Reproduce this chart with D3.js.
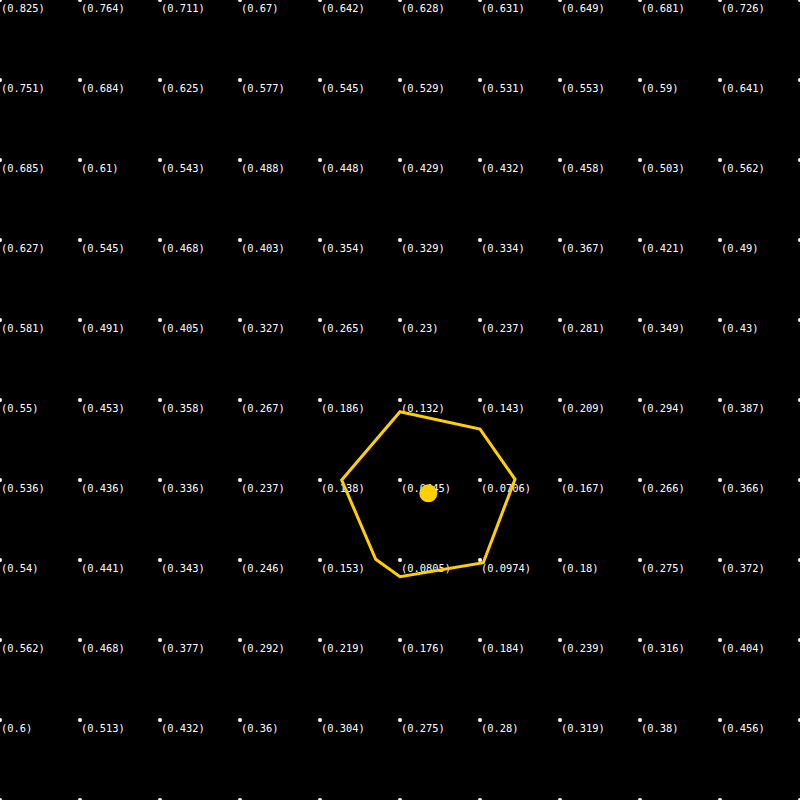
<!DOCTYPE html>
<html>
<head>
<meta charset="utf-8">
<script src="https://cdn.jsdelivr.net/npm/d3@7"></script>
<style>
  body { margin: 0; background: #000; }
  svg { display: block; background: #000; }
</style>
</head>
<body>
<svg id="chart"></svg>
<script>
// grid positions (in grid units), the last row / column sits on the edge
const gridX = [0, 1, 2, 3, 4, 5, 6, 7, 8, 9, 10];
const gridY = [0, 1, 2, 3, 4, 5, 6, 7, 8, 9, 10];

// loss value at each labelled grid point, row by row
const row0 = [0.825, 0.764, 0.711, 0.67, 0.642, 0.628, 0.631, 0.649, 0.681, 0.726];
const row1 = [0.751, 0.684, 0.625, 0.577, 0.545, 0.529, 0.531, 0.553, 0.59, 0.641];
const row2 = [0.685, 0.61, 0.543, 0.488, 0.448, 0.429, 0.432, 0.458, 0.503, 0.562];
const row3 = [0.627, 0.545, 0.468, 0.403, 0.354, 0.329, 0.334, 0.367, 0.421, 0.49];
const row4 = [0.581, 0.491, 0.405, 0.327, 0.265, 0.23, 0.237, 0.281, 0.349, 0.43];
const row5 = [0.55, 0.453, 0.358, 0.267, 0.186, 0.132, 0.143, 0.209, 0.294, 0.387];
const row6 = [0.536, 0.436, 0.336, 0.237, 0.138, 0.0445, 0.0706, 0.167, 0.266, 0.366];
const row7 = [0.54, 0.441, 0.343, 0.246, 0.153, 0.0805, 0.0974, 0.18, 0.275, 0.372];
const row8 = [0.562, 0.468, 0.377, 0.292, 0.219, 0.176, 0.184, 0.239, 0.316, 0.404];
const row9 = [0.6, 0.513, 0.432, 0.36, 0.304, 0.275, 0.28, 0.319, 0.38, 0.456];
const values = [row0, row1, row2, row3, row4, row5, row6, row7, row8, row9];

// simplex outline and current best point (grid units)
const simplexX = [5, 6, 6.4375, 6.041, 5, 4.696, 4.271];
const simplexY = [5.146, 5.363, 5.991, 7.034, 7.209, 6.991, 6.0];
const bestX = 5.354;
const bestY = 6.166;

const width = 800;
const height = 800;

const svg = d3.select("#chart")
  .attr("width", width)
  .attr("height", height);

const x = d3.scaleLinear().domain([0, 10]).range([0, width]);
const y = d3.scaleLinear().domain([0, 10]).range([0, height]);

// every grid point, with value where one is known
const points = [];
gridY.forEach((gy, i) => {
  gridX.forEach((gx, j) => {
    const v = values[i] ? values[i][j] : undefined;
    points.push({ gx, gy, v });
  });
});

svg.append("g")
  .selectAll("circle")
  .data(points)
  .join("circle")
  .attr("cx", d => x(d.gx))
  .attr("cy", d => y(d.gy))
  .attr("r", 2)
  .attr("fill", "#fff");

svg.append("g")
  .selectAll("text")
  .data(points.filter(d => d.v !== undefined))
  .join("text")
  .attr("x", d => x(d.gx) + 1)
  .attr("y", d => y(d.gy) + 12)
  .attr("fill", "#fff")
  .attr("font-family", "'DejaVu Sans Mono', monospace")
  .attr("font-size", 10.4)
  .text(d => `(${d.v})`);

const simplex = simplexX.map((sx, i) => [sx, simplexY[i]]);
const line = d3.line()
  .x(d => x(d[0]))
  .y(d => y(d[1]))
  .curve(d3.curveLinearClosed);

svg.append("path")
  .datum(simplex)
  .attr("d", line)
  .attr("fill", "none")
  .attr("stroke", "#ffd000")
  .attr("stroke-width", 3)
  .attr("stroke-linejoin", "miter");

svg.append("circle")
  .attr("cx", x(bestX))
  .attr("cy", y(bestY))
  .attr("r", 9)
  .attr("fill", "#ffd000");
</script>
</body>
</html>
